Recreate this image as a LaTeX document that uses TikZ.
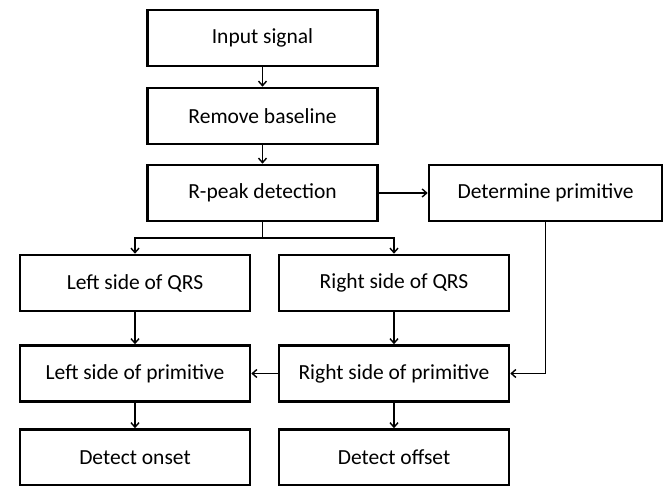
\documentclass[tikz,border=0pt]{standalone}
\usepackage{fontspec}
\setmainfont{Carlito}
\usetikzlibrary{arrows.meta}
\begin{document}
\begin{tikzpicture}[x=1pt,y=-1pt,
  box/.style={draw=black,line width=2.6pt,minimum height=56pt,inner sep=0pt,font=\fontsize{21.5}{24}\selectfont},
  wide/.style={box,minimum width=230pt},
  conn/.style={line width=1.4pt,-{Straight Barb[length=4.5pt,width=8pt]}}]
\useasboundingbox (0,0) rectangle (665,486);
\node[wide] (in) at (262.5,38) {Input signal};
\node[wide] (rb) at (262.5,116) {Remove baseline};
\node[wide] (rp) at (262.5,193) {R-peak detection};
\node[box,minimum width=233pt] (dp) at (545.5,193) {Determine primitive};
\node[wide] (lq) at (135,283) {Left side of QRS};
\node[wide] (rq) at (394,283) {Right side of QRS};
\node[wide] (lp) at (135,373.5) {Left side of primitive};
\node[wide] (rp2) at (394,373.5) {Right side of primitive};
\node[wide] (on) at (135,457.5) {Detect onset};
\node[wide] (off) at (394,457.5) {Detect offset};
\coordinate (br) at (262.5,238);
\draw[conn] (in) -- (rb);
\draw[conn] (rb) -- (rp);
\draw[conn] (rp) -- (dp);
\draw[line width=1.4pt] (rp.south) -- (br);
\draw[conn] (br) -| (lq.north);
\draw[conn] (br) -| (rq.north);
\draw[conn] (lq) -- (lp);
\draw[conn] (rq) -- (rp2);
\draw[conn] (rp2) -- (lp);
\draw[conn] (dp.south) |- (rp2.east);
\draw[conn] (lp) -- (on);
\draw[conn] (rp2) -- (off);
\end{tikzpicture}
\end{document}
